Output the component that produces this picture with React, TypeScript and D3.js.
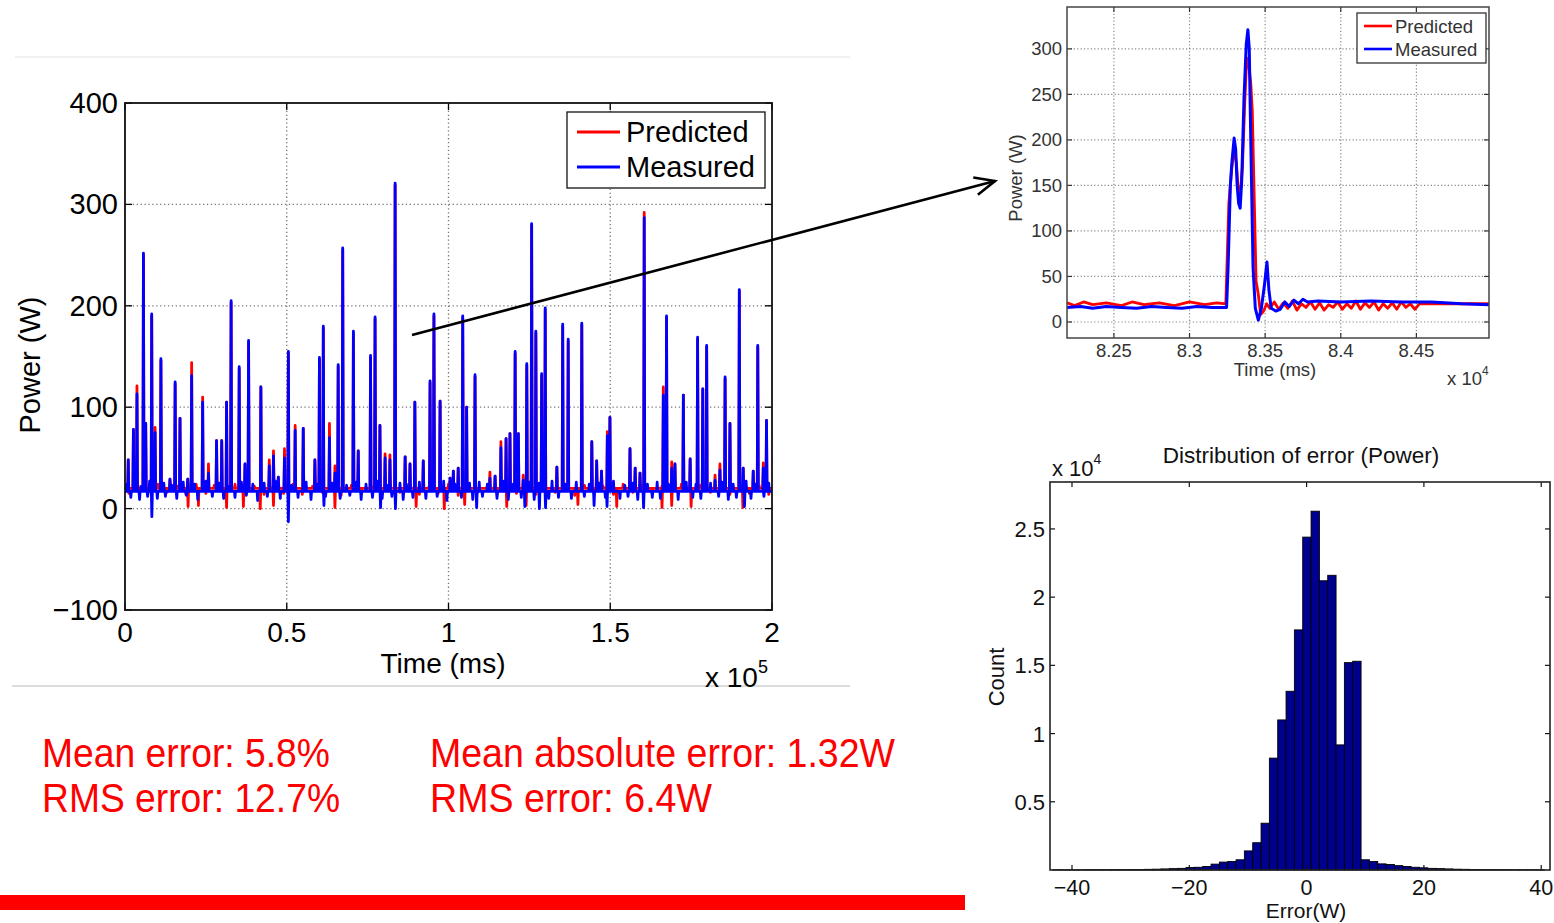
import * as d3 from "d3";

const FONT = "'Liberation Sans', Arial, Helvetica, sans-serif";

// ---------- main trace: time in x10^5 ms, power in W ----------
const spikeT = [0.010, 0.026, 0.037, 0.057, 0.064, 0.0825, 0.093, 0.111, 0.139, 0.155, 0.170, 0.194, 0.206, 0.240, 0.258, 0.283, 0.299, 0.314, 0.328, 0.353, 0.371, 0.382, 0.420, 0.446, 0.459, 0.474, 0.493, 0.505, 0.526, 0.551, 0.587, 0.601, 0.613, 0.632, 0.649, 0.659, 0.673, 0.706, 0.721, 0.759, 0.773, 0.788, 0.804, 0.819, 0.835, 0.866, 0.881, 0.896, 0.922, 0.943, 0.955, 0.974, 1.005, 1.015, 1.030, 1.044, 1.056, 1.082, 1.128, 1.144, 1.162, 1.178, 1.190, 1.206, 1.216, 1.231, 1.242, 1.257, 1.270, 1.288, 1.299, 1.335, 1.353, 1.370, 1.412, 1.443, 1.458, 1.473, 1.491, 1.499, 1.561, 1.577, 1.592, 1.605, 1.664, 1.674, 1.690, 1.700, 1.726, 1.747, 1.770, 1.786, 1.798, 1.824, 1.839, 1.855, 1.870, 1.899, 1.911, 1.942, 1.956, 1.973, 1.983];
const measuredPeak = [48, 78, 113, 252, 84, 192, 75, 148, 29, 125, 89, 29, 131, 105, 35, 67, 67, 105, 205, 140, 44, 166, 120, 42, 52, 31, 50, 155, 77, 79, 48, 149, 180, 70, 35, 142, 257, 175, 57, 151, 189, 82, 50, 48, 321, 51, 44, 105, 47, 126, 192, 106, 30, 37, 40, 190, 100, 132, 30, 32, 60, 69, 74, 155, 74, 28, 143, 281, 175, 133, 198, 41, 182, 167, 183, 66, 47, 37, 72, 90, 59, 40, 35, 287, 112, 190, 40, 44, 112, 49, 169, 118, 161, 28, 38, 130, 84, 216, 40, 37, 161, 40, 87];
const predictedPeak = [48, 78, 121, 250, 84, 190, 80, 146, 29, 123, 89, 29, 144, 110, 44, 67, 67, 105, 203, 138, 44, 164, 120, 48, 57, 31, 59, 153, 82, 79, 48, 147, 178, 84, 42, 140, 255, 173, 57, 149, 187, 82, 54, 53, 319, 51, 44, 105, 47, 124, 190, 106, 30, 37, 40, 188, 100, 130, 36, 32, 66, 69, 74, 153, 74, 33, 141, 279, 173, 131, 196, 41, 180, 165, 181, 66, 47, 37, 76, 90, 59, 40, 35, 292, 120, 188, 46, 44, 112, 49, 167, 118, 159, 33, 44, 128, 84, 214, 40, 37, 159, 45, 87];

const measuredDipT = [0.083, 0.505, 0.615, 0.790, 0.836, 1.087, 1.236, 1.281, 1.300, 1.450, 1.490, 1.603, 1.915];
const measuredDipV = [-8, -13, 3, 1, 0, 1, 2, 0, 1, 3, 2, 1, 2];
const predictedDipT = [0.195, 0.227, 0.314, 0.366, 0.418, 0.459, 0.649, 0.900, 0.987, 1.050, 1.180, 1.240, 1.400, 1.520, 1.660, 1.690, 1.750, 1.910];
const predictedDipV = [2, 3, 1, 2, 0, 3, 1, 2, 0, 4, 2, 3, 4, 2, 1, 3, 2, 1];

const measuredWobT = [0.005, 0.018, 0.031, 0.045, 0.050, 0.070, 0.076, 0.100, 0.120, 0.125, 0.145, 0.160, 0.180, 0.190, 0.215, 0.225, 0.250, 0.270, 0.290, 0.305, 0.320, 0.340, 0.360, 0.375, 0.395, 0.410, 0.430, 0.440, 0.465, 0.480, 0.515, 0.535, 0.560, 0.575, 0.595, 0.620, 0.640, 0.665, 0.685, 0.695, 0.715, 0.730, 0.745, 0.765, 0.780, 0.795, 0.810, 0.825, 0.850, 0.860, 0.870, 0.890, 0.910, 0.930, 0.950, 0.965, 0.985, 0.995, 1.020, 1.040, 1.065, 1.075, 1.095, 1.105, 1.120, 1.150, 1.170, 1.185, 1.200, 1.225, 1.250, 1.265, 1.280, 1.310, 1.320, 1.340, 1.360, 1.380, 1.395, 1.420, 1.435, 1.450, 1.465, 1.485, 1.510, 1.530, 1.545, 1.555, 1.570, 1.585, 1.615, 1.630, 1.645, 1.655, 1.680, 1.710, 1.735, 1.755, 1.765, 1.780, 1.810, 1.835, 1.845, 1.865, 1.880, 1.890, 1.920, 1.935, 1.950, 1.975, 1.990];
const measuredWobV = [24, 11, 26, 9, 22, 12, 27, 10, 25, 12, 23, 10, 26, 13, 24, 9, 27, 12, 25, 10, 22, 11, 26, 13, 24, 8, 25, 12, 27, 10, 23, 11, 26, 9, 24, 12, 25, 10, 23, 13, 26, 9, 24, 11, 27, 10, 23, 12, 25, 9, 24, 11, 26, 10, 24, 12, 27, 8, 24, 11, 25, 9, 26, 12, 24, 10, 27, 9, 24, 11, 26, 9, 25, 10, 27, 11, 24, 10, 26, 12, 24, 9, 25, 11, 27, 10, 23, 12, 25, 9, 24, 11, 26, 10, 24, 9, 26, 11, 24, 10, 25, 12, 26, 9, 24, 11, 27, 10, 24, 12, 25];
const predictedWobT = [0.012, 0.040, 0.070, 0.102, 0.130, 0.162, 0.188, 0.220, 0.250, 0.276, 0.308, 0.340, 0.368, 0.400, 0.430, 0.462, 0.490, 0.520, 0.548, 0.580, 0.610, 0.640, 0.668, 0.700, 0.730, 0.762, 0.790, 0.820, 0.850, 0.878, 0.910, 0.940, 0.968, 1.000, 1.030, 1.062, 1.090, 1.120, 1.150, 1.180, 1.210, 1.238, 1.270, 1.300, 1.330, 1.362, 1.390, 1.420, 1.450, 1.478, 1.510, 1.540, 1.570, 1.600, 1.630, 1.660, 1.690, 1.720, 1.750, 1.780, 1.810, 1.840, 1.870, 1.900, 1.930, 1.960, 1.990];
const predictedWobV = [15, 23, 14, 24, 16, 22, 14, 24, 15, 23, 13, 24, 16, 22, 14, 23, 15, 24, 14, 22, 16, 24, 13, 23, 15, 22, 14, 24, 16, 23, 14, 22, 15, 24, 13, 23, 16, 22, 14, 24, 15, 23, 14, 22, 16, 24, 13, 23, 15, 22, 14, 24, 16, 23, 14, 22, 15, 24, 13, 23, 16, 22, 14, 24, 15, 23, 14];

// ---------- zoomed trace: time in x10^4 ms ----------
const zoomMeasT = [8.219, 8.228, 8.236, 8.245, 8.255, 8.265, 8.275, 8.285, 8.295, 8.305, 8.315, 8.3245, 8.3255, 8.327, 8.328, 8.3295, 8.3305, 8.3315, 8.3325, 8.3335, 8.3345, 8.336, 8.3375, 8.3386, 8.3395, 8.3405, 8.342, 8.3435, 8.3455, 8.3475, 8.3495, 8.3512, 8.3525, 8.354, 8.357, 8.360, 8.363, 8.366, 8.369, 8.372, 8.375, 8.378, 8.385, 8.400, 8.420, 8.440, 8.460, 8.480, 8.498];
const zoomMeasV = [16, 17, 15, 17, 16, 15, 17, 16, 15, 17, 16, 16, 60, 150, 175, 202, 190, 150, 130, 125, 155, 245, 305, 321, 300, 200, 60, 15, 2, 15, 40, 66, 35, 15, 12, 14, 22, 17, 24, 20, 25, 22, 23, 22, 23, 22, 22, 20, 19];
const zoomPredT = [8.219, 8.224, 8.230, 8.236, 8.245, 8.255, 8.262, 8.270, 8.280, 8.290, 8.300, 8.310, 8.318, 8.3240, 8.326, 8.328, 8.3295, 8.331, 8.332, 8.3335, 8.335, 8.3365, 8.3378, 8.339, 8.3405, 8.3415, 8.343, 8.344, 8.3455, 8.347, 8.349, 8.351, 8.353, 8.356, 8.359, 8.362, 8.365, 8.368, 8.371, 8.374, 8.377, 8.380, 8.383, 8.386, 8.389, 8.392, 8.395, 8.398, 8.401, 8.404, 8.407, 8.410, 8.413, 8.416, 8.419, 8.422, 8.425, 8.428, 8.431, 8.434, 8.437, 8.440, 8.443, 8.446, 8.449, 8.451, 8.452, 8.498];
const zoomPredV = [21, 18, 22, 19, 21, 18, 22, 19, 21, 18, 22, 19, 21, 20, 130, 170, 190, 175, 150, 140, 170, 240, 290, 285, 262, 232, 120, 45, 30, 8, 12, 20, 15, 22, 14, 21, 15, 23, 13, 20, 16, 22, 14, 21, 13, 19, 16, 22, 14, 20, 15, 23, 14, 21, 16, 22, 13, 20, 15, 21, 14, 22, 16, 20, 14, 18, 20, 20];

// ---------- error histogram (counts x10^4) ----------
const errBinStart = -43.29;
const errBinWidth = 1.421;
const errCount = [0.001, 0.001, 0.001, 0.001, 0.002, 0.002, 0.002, 0.003, 0.003, 0.004, 0.004, 0.005, 0.006, 0.008, 0.010, 0.012, 0.018, 0.020, 0.026, 0.043, 0.058, 0.062, 0.075, 0.14, 0.20, 0.343, 0.82, 1.10, 1.31, 1.76, 2.44, 2.63, 2.12, 2.16, 0.917, 1.52, 1.53, 0.075, 0.062, 0.045, 0.040, 0.032, 0.026, 0.020, 0.016, 0.012, 0.010, 0.008, 0.006, 0.005, 0.004, 0.003, 0.003, 0.002, 0.002, 0.001, 0.001, 0.001, 0.001];

const mainXTicks = [0, 0.5, 1, 1.5, 2];
const mainYTicks = [-100, 0, 100, 200, 300, 400];
const zoomXTicks = [8.25, 8.3, 8.35, 8.4, 8.45];
const zoomYTicks = [0, 50, 100, 150, 200, 250, 300];
const histXTicks = [-40, -20, 0, 20, 40];
const histYTicks = [0.5, 1, 1.5, 2, 2.5];

const statsLeft = ["Mean error: 5.8%", "RMS error: 12.7%"];
const statsRight = ["Mean absolute error: 1.32W", "RMS error: 6.4W"];
const statsLeftWidth = [288, 298];
const statsRightWidth = [465, 282];

type P = [number, number];

function spikeTrace(base: number, x0: number, x1: number, sets: [number[], number[]][]) {
  const ev: P[] = [];
  sets.forEach(([ts, vs]) => ts.forEach((t, i) => ev.push([t, vs[i]])));
  ev.sort((a, b) => a[0] - b[0]);
  const h = 0.0016;
  const pts: P[] = [[x0, base]];
  ev.forEach(([t, v]) => pts.push([t - h, base], [t, v], [t + h, base]));
  pts.push([x1, base]);
  return pts;
}

const fmt = (v: number) => (v < 0 ? "\u2212" + Math.abs(v) : String(v));

export default function App() {
  // main panel
  const mx = d3.scaleLinear([0, 2], [125, 772]);
  const my = d3.scaleLinear([-100, 400], [610, 103]);
  const mLine = d3.line<P>().x(d => mx(d[0])).y(d => my(d[1]));
  const measPts = spikeTrace(17, 0, 2, [[spikeT, measuredPeak], [measuredDipT, measuredDipV], [measuredWobT, measuredWobV]]);
  const predPts = spikeTrace(20, 0, 2, [[spikeT, predictedPeak], [predictedDipT, predictedDipV], [predictedWobT, predictedWobV]]);

  // zoom panel
  const zx = d3.scaleLinear([8.219, 8.498], [1067, 1489]);
  const zy = d3.scaleLinear([-17.6, 346], [338, 7]);
  const zLine = d3.line<P>().x(d => zx(d[0])).y(d => zy(d[1]));
  const zMeas: P[] = zoomMeasT.map((t, i) => [t, zoomMeasV[i]]);
  const zPred: P[] = zoomPredT.map((t, i) => [t, zoomPredV[i]]);

  // histogram panel
  const hx = d3.scaleLinear([-43.75, 41.5], [1050, 1550]);
  const hy = d3.scaleLinear([0, 2.844], [870, 482]);

  // arrow
  const a0: P = [412, 335], a1: P = [995, 181];
  const ang = Math.atan2(a1[1] - a0[1], a1[0] - a0[0]);
  const hl = 22, spread = 0.42;
  const head = `M${a1[0] - hl * Math.cos(ang - spread)},${a1[1] - hl * Math.sin(ang - spread)} L${a1[0]},${a1[1]} L${a1[0] - hl * Math.cos(ang + spread)},${a1[1] - hl * Math.sin(ang + spread)}`;

  return (
    <svg width={1554} height={923} viewBox="0 0 1554 923" fontFamily={FONT}
      style={{ position: "absolute", left: 0, top: 0, background: "#fff" }}>
      <defs>
        <clipPath id="mainClip"><rect x={125} y={103} width={647} height={507} /></clipPath>
        <clipPath id="zoomClip"><rect x={1067} y={7} width={422} height={331} /></clipPath>
      </defs>
      <rect width={1554} height={923} fill="#fff" />

      {/* faint slide separators */}
      <line x1={15} x2={850} y1={57} y2={57} stroke="#ececec" strokeWidth={1.5} />
      <line x1={12} x2={850} y1={686} y2={686} stroke="#dcdcdc" strokeWidth={2} />

      {/* ===== main panel ===== */}
      <g>
        {mainXTicks.slice(1, -1).map(t => (
          <line key={"gx" + t} x1={mx(t)} x2={mx(t)} y1={103} y2={610} stroke="#777" strokeWidth={1.3} strokeDasharray="1.3,2.6" />
        ))}
        {mainYTicks.slice(1, -1).map(t => (
          <line key={"gy" + t} x1={125} x2={772} y1={my(t)} y2={my(t)} stroke="#777" strokeWidth={1.3} strokeDasharray="1.3,2.6" />
        ))}
        <g clipPath="url(#mainClip)">
          <path d={mLine(predPts) ?? ""} fill="none" stroke="#ff0000" strokeWidth={2.8} strokeLinejoin="round" />
          <path d={mLine(measPts) ?? ""} fill="none" stroke="#0000ff" strokeWidth={2.8} strokeLinejoin="round" />
        </g>
        {mainXTicks.map(t => (
          <g key={"tx" + t}>
            <line x1={mx(t)} x2={mx(t)} y1={610} y2={603} stroke="#000" strokeWidth={1.3} />
            <line x1={mx(t)} x2={mx(t)} y1={103} y2={110} stroke="#000" strokeWidth={1.3} />
            <text x={mx(t)} y={642} fontSize={28} textAnchor="middle" fill="#000">{t}</text>
          </g>
        ))}
        {mainYTicks.map(t => (
          <g key={"ty" + t}>
            <line x1={125} x2={132} y1={my(t)} y2={my(t)} stroke="#000" strokeWidth={1.3} />
            <line x1={772} x2={765} y1={my(t)} y2={my(t)} stroke="#000" strokeWidth={1.3} />
            <text x={118} y={my(t) + 10} fontSize={29} textAnchor="end" fill="#000">{fmt(t)}</text>
          </g>
        ))}
        <rect x={125} y={103} width={647} height={507} fill="none" stroke="#111" strokeWidth={1.8} />
        <text x={443} y={673} fontSize={28} textAnchor="middle" fill="#000">Time (ms)</text>
        <text x={705} y={687} fontSize={28} fill="#000">x 10<tspan fontSize={18} dy={-14}>5</tspan></text>
        <text transform="translate(40,365) rotate(-90)" fontSize={29} textAnchor="middle" fill="#000">Power (W)</text>

        <rect x={567} y={112} width={198} height={76} fill="#fff" stroke="#111" strokeWidth={1.3} />
        <line x1={577} x2={620} y1={132} y2={132} stroke="#ff0000" strokeWidth={3} />
        <line x1={577} x2={620} y1={167} y2={167} stroke="#0000ff" strokeWidth={3} />
        <text x={626} y={142} fontSize={29} fill="#000">Predicted</text>
        <text x={626} y={177} fontSize={29} fill="#000">Measured</text>
      </g>

      {/* arrow */}
      <line x1={a0[0]} y1={a0[1]} x2={a1[0]} y2={a1[1]} stroke="#000" strokeWidth={2.6} />
      <path d={head} fill="none" stroke="#000" strokeWidth={2.6} />

      {/* ===== zoomed panel ===== */}
      <g>
        {zoomXTicks.map(t => (
          <line key={"zgx" + t} x1={zx(t)} x2={zx(t)} y1={7} y2={338} stroke="#888" strokeWidth={1.2} strokeDasharray="1.2,2.2" />
        ))}
        {zoomYTicks.map(t => (
          <line key={"zgy" + t} x1={1067} x2={1489} y1={zy(t)} y2={zy(t)} stroke="#888" strokeWidth={1.2} strokeDasharray="1.2,2.2" />
        ))}
        <g clipPath="url(#zoomClip)">
          <path d={zLine(zPred) ?? ""} fill="none" stroke="#ff0000" strokeWidth={2.8} strokeLinejoin="round" />
          <path d={zLine(zMeas) ?? ""} fill="none" stroke="#0000ff" strokeWidth={3} strokeLinejoin="round" />
        </g>
        {zoomXTicks.map(t => (
          <g key={"ztx" + t}>
            <line x1={zx(t)} x2={zx(t)} y1={338} y2={333} stroke="#333" strokeWidth={1.2} />
            <line x1={zx(t)} x2={zx(t)} y1={7} y2={12} stroke="#333" strokeWidth={1.2} />
            <text x={zx(t)} y={357} fontSize={18.5} textAnchor="middle" fill="#333">{t}</text>
          </g>
        ))}
        {zoomYTicks.map(t => (
          <g key={"zty" + t}>
            <line x1={1067} x2={1072} y1={zy(t)} y2={zy(t)} stroke="#333" strokeWidth={1.2} />
            <line x1={1489} x2={1484} y1={zy(t)} y2={zy(t)} stroke="#333" strokeWidth={1.2} />
            <text x={1062} y={zy(t) + 6.5} fontSize={18.5} textAnchor="end" fill="#333">{t}</text>
          </g>
        ))}
        <rect x={1067} y={7} width={422} height={331} fill="none" stroke="#444" strokeWidth={1.5} />
        <text x={1275} y={376} fontSize={18.5} textAnchor="middle" fill="#333">Time (ms)</text>
        <text x={1447} y={385} fontSize={18.5} fill="#333">x 10<tspan fontSize={12} dy={-10}>4</tspan></text>
        <text transform="translate(1022,178) rotate(-90)" fontSize={18.5} textAnchor="middle" fill="#333">Power (W)</text>

        <rect x={1357} y={13} width={129} height={50} fill="#fff" stroke="#333" strokeWidth={1.3} />
        <line x1={1364} x2={1392} y1={26} y2={26} stroke="#ff0000" strokeWidth={2.6} />
        <line x1={1364} x2={1392} y1={49} y2={49} stroke="#0000ff" strokeWidth={2.6} />
        <text x={1395} y={33} fontSize={18.5} fill="#333">Predicted</text>
        <text x={1395} y={56} fontSize={18.5} fill="#333">Measured</text>
      </g>

      {/* ===== histogram panel ===== */}
      <g>
        {errCount.map((c, i) => {
          const e0 = errBinStart + i * errBinWidth;
          const x0 = hx(e0), x1 = hx(e0 + errBinWidth);
          return (
            <rect key={"b" + i} x={x0} y={hy(c)} width={x1 - x0} height={hy(0) - hy(c)}
              fill="#00008f" stroke="#000" strokeWidth={0.9} />
          );
        })}
        {histXTicks.map(t => (
          <g key={"htx" + t}>
            <line x1={hx(t)} x2={hx(t)} y1={870} y2={865} stroke="#111" strokeWidth={1.2} />
            <line x1={hx(t)} x2={hx(t)} y1={482} y2={487} stroke="#111" strokeWidth={1.2} />
            <text x={hx(t)} y={895} fontSize={21.5} textAnchor="middle" fill="#111">{fmt(t)}</text>
          </g>
        ))}
        {histYTicks.map(t => (
          <g key={"hty" + t}>
            <line x1={1050} x2={1055} y1={hy(t)} y2={hy(t)} stroke="#111" strokeWidth={1.2} />
            <line x1={1550} x2={1545} y1={hy(t)} y2={hy(t)} stroke="#111" strokeWidth={1.2} />
            <text x={1045} y={hy(t) + 8} fontSize={22} textAnchor="end" fill="#111">{t}</text>
          </g>
        ))}
        <rect x={1050} y={482} width={500} height={388} fill="none" stroke="#222" strokeWidth={1.6} />
        <text x={1301} y={463} fontSize={22.5} textAnchor="middle" fill="#111">Distribution of error (Power)</text>
        <text x={1052} y={476} fontSize={22} fill="#111">x 10<tspan fontSize={14} dy={-12}>4</tspan></text>
        <text x={1306} y={918} fontSize={21} textAnchor="middle" fill="#111">Error(W)</text>
        <text transform="translate(1004,677) rotate(-90)" fontSize={22} textAnchor="middle" fill="#111">Count</text>
      </g>

      {/* ===== stats text and bar ===== */}
      {statsLeft.map((s, i) => (
        <text key={"sl" + i} x={42} y={767 + i * 45} fontSize={40} fill="#ff0000"
          textLength={statsLeftWidth[i]} lengthAdjust="spacingAndGlyphs">{s}</text>
      ))}
      {statsRight.map((s, i) => (
        <text key={"sr" + i} x={430} y={767 + i * 45} fontSize={40} fill="#ff0000"
          textLength={statsRightWidth[i]} lengthAdjust="spacingAndGlyphs">{s}</text>
      ))}
      <rect x={0} y={895} width={965} height={15} fill="#ff0000" />
    </svg>
  );
}
